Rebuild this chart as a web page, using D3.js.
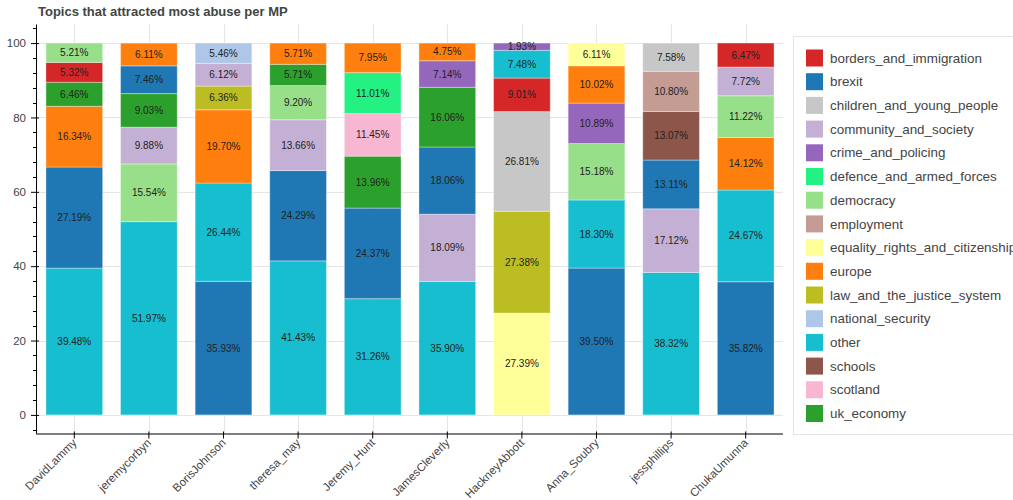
<!DOCTYPE html>
<html>
<head>
<meta charset="utf-8">
<script src="https://cdn.jsdelivr.net/npm/d3@7"></script>
<style>
  body { margin: 0; background: #fff; font-family: "Liberation Sans", Arial, Helvetica, sans-serif; }
</style>
</head>
<body>
<div id="chart"></div>
<script>
// MPs on the x axis
const mps = ['DavidLammy', 'jeremycorbyn', 'BorisJohnson', 'theresa_may', 'Jeremy_Hunt',
  'JamesCleverly', 'HackneyAbbott', 'Anna_Soubry', 'jessphillips', 'ChukaUmunna'];

// legend topics and their colours
const topics = ['borders_and_immigration', 'brexit', 'children_and_young_people', 'community_and_society',
  'crime_and_policing', 'defence_and_armed_forces', 'democracy', 'employment',
  'equality_rights_and_citizenship', 'europe', 'law_and_the_justice_system', 'national_security',
  'other', 'schools', 'scotland', 'uk_economy'];
const topicColors = ['#d62728', '#1f77b4', '#c7c7c7', '#c5b0d5', '#9467bd', '#23f283', '#98df8a', '#c49c94',
  '#ffff99', '#ff7f0e', '#bcbd22', '#aec7e8', '#17becf', '#8c564b', '#f7b6d2', '#2ca02c'];

// stack order per MP, bottom to top
const barTopics = [
  ['other', 'brexit', 'europe', 'uk_economy', 'borders_and_immigration', 'democracy'],
  ['other', 'democracy', 'community_and_society', 'uk_economy', 'brexit', 'europe'],
  ['brexit', 'other', 'europe', 'law_and_the_justice_system', 'community_and_society', 'national_security'],
  ['other', 'brexit', 'community_and_society', 'democracy', 'uk_economy', 'europe'],
  ['other', 'brexit', 'uk_economy', 'scotland', 'defence_and_armed_forces', 'europe'],
  ['other', 'community_and_society', 'brexit', 'uk_economy', 'crime_and_policing', 'europe'],
  ['equality_rights_and_citizenship', 'law_and_the_justice_system', 'children_and_young_people', 'borders_and_immigration', 'other', 'crime_and_policing'],
  ['brexit', 'other', 'democracy', 'crime_and_policing', 'europe', 'equality_rights_and_citizenship'],
  ['other', 'community_and_society', 'brexit', 'schools', 'employment', 'children_and_young_people'],
  ['brexit', 'other', 'europe', 'democracy', 'community_and_society', 'borders_and_immigration']
];
// percentages, same order
const barValues = [
  [39.48, 27.19, 16.34, 6.46, 5.32, 5.21],
  [51.97, 15.54, 9.88, 9.03, 7.46, 6.11],
  [35.93, 26.44, 19.70, 6.36, 6.12, 5.46],
  [41.43, 24.29, 13.66, 9.20, 5.71, 5.71],
  [31.26, 24.37, 13.96, 11.45, 11.01, 7.95],
  [35.90, 18.09, 18.06, 16.06, 7.14, 4.75],
  [27.39, 27.38, 26.81, 9.01, 7.48, 1.93],
  [39.50, 18.30, 15.18, 10.89, 10.02, 6.11],
  [38.32, 17.12, 13.11, 13.07, 10.80, 7.58],
  [35.82, 24.67, 14.12, 11.22, 7.72, 6.47]
];
const yTicks = [0, 20, 40, 60, 80, 100];

const width = 1013, height = 500;
const frame = {left: 37, right: 783, top: 24.5, bottom: 433.5};

const svg = d3.select('#chart').append('svg')
  .attr('width', width)
  .attr('height', height);

const x = d3.scaleBand().domain(mps).range([frame.left, frame.right]).paddingInner(0).paddingOuter(0);
const y = d3.scaleLinear().domain([-5, 105]).range([frame.bottom, frame.top]);
const color = d3.scaleOrdinal().domain(topics).range(topicColors);

// grid
const grid = svg.append('g').attr('class', 'grid');
grid.selectAll('line.h').data(yTicks).enter().append('line')
  .attr('x1', frame.left).attr('x2', frame.right)
  .attr('y1', d => Math.round(y(d)) + 0.5).attr('y2', d => Math.round(y(d)) + 0.5)
  .attr('stroke', '#e5e5e5');
grid.selectAll('line.v').data(mps).enter().append('line')
  .attr('x1', d => Math.round(x(d) + x.bandwidth() / 2) + 0.5)
  .attr('x2', d => Math.round(x(d) + x.bandwidth() / 2) + 0.5)
  .attr('y1', frame.top).attr('y2', frame.bottom)
  .attr('stroke', '#e5e5e5');

// flatten stacks
let segs = [];
mps.forEach(function(mp, i) {
  let base = 0;
  barTopics[i].forEach(function(t, j) {
    let v = barValues[i][j];
    segs.push({mp: mp, topic: t, y0: base, y1: base + v, value: v});
    base += v;
  });
});

const barW = x.bandwidth() * 0.76;
const bars = svg.append('g').attr('class', 'bars');
bars.selectAll('rect').data(segs).enter().append('rect')
  .attr('x', d => x(d.mp) + (x.bandwidth() - barW) / 2)
  .attr('width', barW)
  .attr('y', d => y(d.y1))
  .attr('height', d => y(d.y0) - y(d.y1))
  .attr('fill', d => color(d.topic))
  .attr('stroke', '#ffffff')
  .attr('stroke-opacity', 0.35)
  .attr('stroke-width', 1);

bars.selectAll('text').data(segs).enter().append('text')
  .attr('x', d => x(d.mp) + x.bandwidth() / 2)
  .attr('y', d => y((d.y0 + d.y1) / 2))
  .attr('dy', '0.35em')
  .attr('text-anchor', 'middle')
  .attr('font-size', '10px')
  .attr('fill', '#222')
  .text(d => d.value.toFixed(2) + '%');

// y axis
const yAxis = svg.append('g').attr('transform', 'translate(' + frame.left + ',0)');
yAxis.call(d3.axisLeft(y).tickValues(yTicks).tickSize(6).tickPadding(5).tickSizeOuter(0))
  .call(g => g.select('.domain').remove());
yAxis.selectAll('.tick line').attr('x2', -6).attr('x1', 2).attr('stroke', '#000');
yAxis.selectAll('.tick text').attr('font-size', '11.5px').attr('fill', '#444')
  .attr('font-family', '"Liberation Sans", Arial, sans-serif');
yAxis.selectAll('line.minor').data(d3.range(-4, 105, 4).filter(v => v % 20 !== 0)).enter()
  .append('line').attr('class', 'minor')
  .attr('x1', -4).attr('x2', 0)
  .attr('y1', d => Math.round(y(d)) + 0.5).attr('y2', d => Math.round(y(d)) + 0.5)
  .attr('stroke', '#000');
yAxis.append('line')
  .attr('x1', -0.5).attr('x2', -0.5)
  .attr('y1', frame.top).attr('y2', frame.bottom)
  .attr('stroke', '#000');

// x axis
const xAxis = svg.append('g').attr('transform', 'translate(0,' + frame.bottom + ')');
xAxis.call(d3.axisBottom(x).tickSize(6).tickSizeOuter(0))
  .call(g => g.select('.domain').remove());
xAxis.selectAll('.tick line').attr('y1', -2).attr('y2', 5).attr('stroke', '#000');
xAxis.selectAll('.tick text')
  .attr('font-size', '11.5px').attr('fill', '#444')
  .attr('font-family', '"Liberation Sans", Arial, sans-serif')
  .attr('text-anchor', 'end')
  .attr('dy', null).attr('y', 0)
  .attr('transform', 'translate(3,10) rotate(-45)');
xAxis.append('line')
  .attr('x1', frame.left - 1).attr('x2', frame.right)
  .attr('y1', 0.5).attr('y2', 0.5)
  .attr('stroke', '#000');

// title
svg.append('text')
  .attr('x', 38).attr('y', 16)
  .attr('font-size', '13px').attr('font-weight', 'bold').attr('fill', '#444')
  .text('Topics that attracted most abuse per MP');

// legend
const legend = svg.append('g').attr('class', 'legend');
legend.append('rect')
  .attr('x', 793.5).attr('y', 36.5)
  .attr('width', 240).attr('height', 398)
  .attr('fill', '#fff').attr('stroke', '#e5e5e5');
const item = legend.selectAll('g.item').data(topics).enter().append('g')
  .attr('class', 'item')
  .attr('transform', (d, i) => 'translate(806,' + (49.5 + i * 23.7) + ')');
item.append('rect')
  .attr('width', 17).attr('height', 17)
  .attr('fill', d => color(d));
item.append('text')
  .attr('x', 24).attr('y', 8.5).attr('dy', '0.35em')
  .attr('font-size', '13.4px').attr('fill', '#444')
  .text(d => d);
</script>
</body>
</html>
